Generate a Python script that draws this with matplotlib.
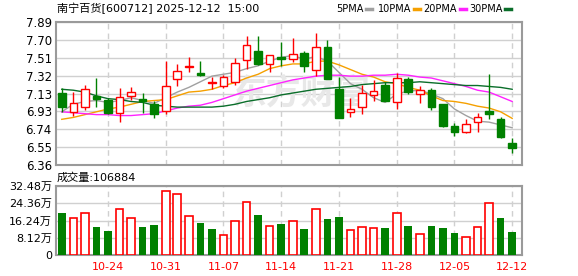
""" Daily K-line chart of 南宁百货 (600712) with moving averages and volume."""

import numpy as np
import matplotlib
matplotlib.use('Agg')
import matplotlib.pyplot as plt
from matplotlib.patches import Rectangle
from matplotlib.lines import Line2D

plt.rcParams['font.family'] = ['DejaVu Sans', 'Noto Sans CJK SC']
plt.rcParams['font.size'] = 8

dates = ['10-20', '10-21', '10-22', '10-23', '10-24',
         '10-27', '10-28', '10-29', '10-30', '10-31',
         '11-03', '11-04', '11-05', '11-06', '11-07',
         '11-10', '11-11', '11-12', '11-13', '11-14',
         '11-17', '11-18', '11-19', '11-20', '11-21',
         '11-24', '11-25', '11-26', '11-27', '11-28',
         '12-01', '12-02', '12-03', '12-04', '12-05',
         '12-08', '12-09', '12-10', '12-11', '12-12']

opens = [7.13, 6.93, 6.98, 7.10, 7.06, 6.92, 7.10, 7.07, 7.01, 6.94,
         7.28, 7.41, 7.34, 7.24, 7.21, 7.25, 7.48, 7.58, 7.44, 7.51,
         7.49, 7.56, 7.38, 7.62, 7.17, 6.93, 6.98, 7.11, 7.22, 7.03,
         7.28, 7.12, 7.16, 7.01, 6.78, 6.71, 6.82, 6.94, 6.85, 6.60]
highs = [7.18, 7.14, 7.22, 7.29, 7.08, 7.18, 7.19, 7.13, 7.05, 7.47,
         7.44, 7.51, 7.47, 7.30, 7.32, 7.50, 7.74, 7.74, 7.54, 7.67,
         7.72, 7.58, 7.77, 7.70, 7.30, 7.08, 7.22, 7.27, 7.25, 7.34,
         7.30, 7.20, 7.18, 7.01, 6.81, 6.85, 6.92, 7.33, 6.87, 6.65]
lows = [6.93, 6.88, 6.95, 6.98, 6.91, 6.82, 7.06, 6.92, 6.86, 6.91,
        7.21, 7.35, 7.31, 7.17, 7.18, 7.22, 7.39, 7.43, 7.35, 7.42,
        7.46, 7.35, 7.31, 7.28, 6.86, 6.87, 6.91, 7.04, 7.05, 6.96,
        7.12, 7.02, 6.95, 6.77, 6.67, 6.70, 6.71, 6.85, 6.65, 6.49]
closes = [6.98, 7.02, 7.17, 7.07, 6.92, 7.09, 7.14, 7.05, 6.91, 7.21,
          7.37, 7.42, 7.32, 7.25, 7.30, 7.45, 7.64, 7.44, 7.54, 7.49,
          7.55, 7.42, 7.62, 7.28, 6.86, 6.96, 7.13, 7.15, 7.05, 7.29,
          7.14, 7.16, 6.98, 6.78, 6.72, 6.80, 6.87, 6.91, 6.66, 6.54]

# volume in 万
volumes = [19.9, 17.3, 19.6, 13.2, 11.3, 21.5, 17.3, 13.2, 14.1, 30.0,
           28.6, 18.2, 15.1, 12.2, 9.3, 15.9, 24.9, 18.8, 13.5, 14.6,
           15.9, 12.2, 21.5, 16.9, 17.9, 11.8, 13.0, 12.6, 12.7, 19.6,
           13.7, 9.7, 13.7, 12.7, 10.4, 8.3, 13.0, 24.3, 17.4, 10.69]

ma5 = [6.93, 7.01, 7.04, 7.05, 7.03, 7.05, 7.08, 7.05, 7.02, 7.08,
       7.14, 7.19, 7.25, 7.31, 7.33, 7.35, 7.39, 7.42, 7.47, 7.51,
       7.53, 7.49, 7.52, 7.47, 7.35, 7.23, 7.17, 7.08, 7.03, 7.12,
       7.15, 7.16, 7.12, 7.07, 6.96, 6.89, 6.83, 6.82, 6.79, 6.76]
ma10 = [6.85, 6.87, 6.90, 6.93, 6.96, 6.98, 7.01, 7.04, 7.05, 7.06,
        7.10, 7.14, 7.15, 7.17, 7.21, 7.24, 7.29, 7.33, 7.39, 7.42,
        7.44, 7.44, 7.47, 7.47, 7.43, 7.38, 7.33, 7.30, 7.25, 7.23,
        7.19, 7.16, 7.10, 7.05, 7.04, 7.02, 6.99, 6.97, 6.93, 6.86]
ma20 = [6.93, 6.92, 6.91, 6.90, 6.90, 6.89, 6.89, 6.90, 6.91, 6.94,
        6.97, 6.99, 7.00, 7.03, 7.07, 7.11, 7.15, 7.18, 7.21, 7.24,
        7.27, 7.29, 7.31, 7.32, 7.32, 7.31, 7.31, 7.32, 7.32, 7.33,
        7.32, 7.30, 7.29, 7.26, 7.23, 7.20, 7.16, 7.14, 7.09, 7.04]
ma30 = [7.17, 7.16, 7.14, 7.10, 7.07, 7.06, 7.04, 7.03, 7.00, 6.99,
        6.98, 6.98, 6.98, 6.98, 6.99, 7.01, 7.04, 7.06, 7.08, 7.11,
        7.13, 7.15, 7.17, 7.18, 7.19, 7.20, 7.22, 7.23, 7.24, 7.24,
        7.24, 7.25, 7.24, 7.23, 7.22, 7.21, 7.21, 7.20, 7.19, 7.17]

price_ticks = [6.36, 6.55125, 6.7425, 6.93375, 7.125, 7.31625, 7.5075, 7.69875, 7.89]
price_labels = ['6.36', '6.55', '6.74', '6.93', '7.13', '7.32', '7.51', '7.70', '7.89']
vol_ticks = [0, 8.12, 16.24, 24.36, 32.48]
vol_labels = ['0', '8.12万', '16.24万', '24.36万', '32.48万']

RED = '#ff0000'
GREEN = '#008000'
GRID = '#d0d0d0'
FRAME = '#9a9a9a'

W, H = 578., 276.
fig = plt.figure(figsize=(W / 100, H / 100), dpi=100)
fig.patch.set_facecolor('white')

ax = fig.add_axes([56 / W, 1 - 165.3 / H, 466 / W, 143.6 / H])
axv = fig.add_axes([56 / W, 1 - 255 / H, 466 / W, 69 / H])

n = len(closes)
x = np.arange(n)
bw = 0.66
week_idx = list(range(4, n, 5))

# candles
for i in range(n):
    up = closes[i] >= opens[i]
    c = RED if up else GREEN
    ax.vlines(x[i], lows[i], highs[i], color=c, lw=1, zorder=3)
    lo = min(opens[i], closes[i])
    hi = max(opens[i], closes[i])
    ax.add_patch(Rectangle((x[i] - bw / 2, lo), bw, max(hi - lo, 0.004),
                           facecolor='white' if up else GREEN,
                           edgecolor=c, lw=1, zorder=4))

# moving averages
ax.plot(x, ma5, color='#a0a0a0', lw=1, zorder=2)
ax.plot(x, ma10, color='#f5a000', lw=1, zorder=2)
ax.plot(x, ma20, color='#ff22ff', lw=1, zorder=2)
ax.plot(x, ma30, color='#0a6e2a', lw=1, zorder=2)

# watermark
ax.text(0.526, 0.50, '东方财富', transform=ax.transAxes, ha='center', va='center',
        fontsize=25, fontweight='bold', color='#e8e8e8', zorder=1,
        family=['Noto Sans CJK SC'])

# volume bars, coloured by close vs previous close
for i in range(n):
    if i == 0:
        up = closes[i] >= opens[i]
    else:
        up = closes[i] >= closes[i - 1]
    if up:
        axv.bar(x[i], volumes[i], width=bw, facecolor='white', edgecolor=RED,
                lw=1.2, zorder=3)
    else:
        axv.bar(x[i], volumes[i], width=bw, color=GREEN, lw=0, zorder=3)

for a in (ax, axv):
    a.set_xlim(-0.5, 39.85)
    for xi in week_idx:
        a.axvline(xi, color=GRID, lw=1, ls=(0, (4, 3)), zorder=0)
    a.grid(axis='y', color=GRID, lw=1, zorder=0)
    a.set_axisbelow(True)
    for s in a.spines.values():
        s.set_color(FRAME)
        s.set_linewidth(1.5)
    a.tick_params(length=0, pad=3, labelsize=8.5)

ax.set_ylim(6.36, 7.89)
ax.set_yticks(price_ticks)
ax.set_yticklabels(price_labels)
ax.set_xticks([])

axv.set_ylim(0, 32.48)
axv.set_yticks(vol_ticks)
axv.set_yticklabels(vol_labels, fontsize=8)
axv.set_xticks(week_idx)
axv.set_xticklabels([dates[i] for i in week_idx], color=RED, fontsize=8)
axv.tick_params(axis='x', pad=5)

# header texts
ty = 1 - 8.5 / H
fig.text(57 / W, ty, '南宁百货[600712] 2025-12-12  15:00', ha='left', va='center', fontsize=8)
fig.text(57 / W, 1 - 177.5 / H, '成交量:106884', ha='left', va='center', fontsize=8)

# legend: label first, coloured dash after it
legend = [('5PMA', 336, '#a0a0a0'),
          ('10PMA', 378, '#f5a000'),
          ('20PMA', 423, '#ff22ff'),
          ('30PMA', 469, '#0a6e2a')]
renderer = fig.canvas.get_renderer()
for lab, x0, col in legend:
    t = fig.text(x0 / W, ty, lab, ha='left', va='center', fontsize=7)
    x1 = t.get_window_extent(renderer).x1 + 3
    fig.add_artist(Line2D([x1 / W, (x1 + 6) / W], [ty, ty], transform=fig.transFigure,
                          color=col, lw=2.5))

plt.savefig('out.png', dpi=100)
